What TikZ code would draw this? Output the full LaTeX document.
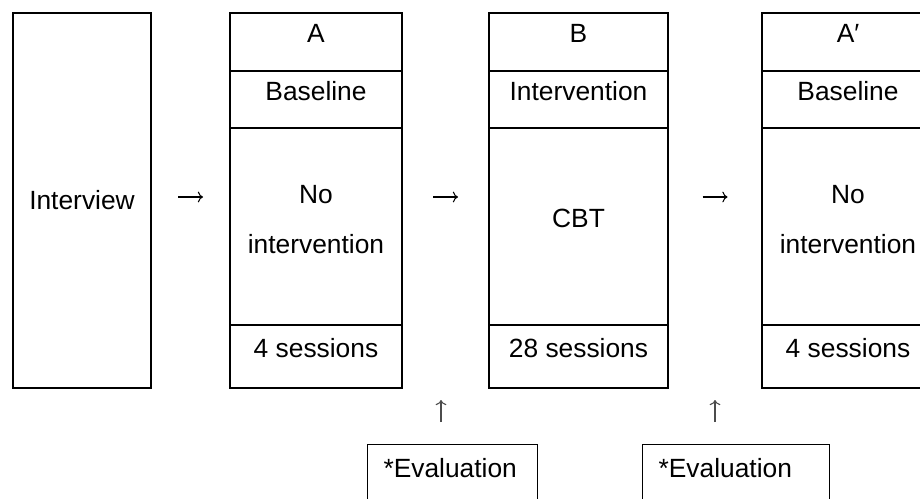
\documentclass[tikz,border=0pt]{standalone}
\usepackage{fontspec}
\setmainfont{Liberation Sans}
\usetikzlibrary{arrows.meta,calc,positioning}

\begin{document}
\begin{tikzpicture}[
  font=\fontsize{15}{18}\selectfont,
  >=To,
  box/.style    ={draw,line width=0.6pt,inner sep=0pt,outer sep=0pt,align=center},
  raised/.style ={text height=0.36cm,text depth=0.32cm},
  interv/.style ={box,minimum width=2.76cm,minimum height=7.5cm},
  title/.style  ={box,raised,minimum height=1.16cm},
  phase/.style  ={box,raised,minimum height=1.14cm},
  body/.style   ={box,minimum height=3.94cm,font=\fontsize{15}{28.4}\selectfont},
  twoline/.style={text height=1.46cm,text depth=0.38cm},
  count/.style  ={box,raised,minimum height=1.26cm},
  evalbox/.style={draw,line width=0.6pt,anchor=north west,align=left,
                  inner xsep=0.32cm,inner ysep=0.28cm,
                  text height=0.38cm,text depth=1.2cm},
  arrow/.style  ={->,line width=0.6pt},
  uparrow/.style={->,line width=0.6pt,draw=black!70},
]

%% frame of the figure (right column and evaluation boxes run off it)
\useasboundingbox (0,0) rectangle (18.4,-9.96);
\clip (0,0) rectangle (18.4,-9.96);

% --- Interview ---
\node[interv] (interview) at (1.64,-4.01) {Interview};

% --- Phase A ---
\node[title,minimum width=3.44cm,right=1.58cm of interview.north east,anchor=north west] (aTitle) {A};
\node[phase,minimum width=3.44cm,below=0pt of aTitle] (aPhase) {Baseline};
\node[body,twoline,minimum width=3.44cm,below=0pt of aPhase] (aBody) {No\\intervention};
\node[count,minimum width=3.44cm,below=0pt of aBody]  (aCount) {4 sessions};

% --- Phase B ---
\node[title,minimum width=3.58cm,right=1.74cm of aTitle.north east,anchor=north west] (bTitle) {B};
\node[phase,minimum width=3.58cm,below=0pt of bTitle] (bPhase) {Intervention};
\node[body,raised,minimum width=3.58cm,below=0pt of bPhase] (bBody) {CBT};
\node[count,minimum width=3.58cm,below=0pt of bBody]  (bCount) {28 sessions};

% --- Phase A' ---
\node[title,minimum width=3.44cm,right=1.88cm of bTitle.north east,anchor=north west] (cTitle) {A′};
\node[phase,minimum width=3.44cm,below=0pt of cTitle] (cPhase) {Baseline};
\node[body,twoline,minimum width=3.44cm,below=0pt of cPhase] (cBody) {No\\intervention};
\node[count,minimum width=3.44cm,below=0pt of cBody]  (cCount) {4 sessions};

% --- Evaluations ---
\node[evalbox,text width=2.76cm] (evalA) at (7.34,-8.88) {*Evaluation};
\node[evalbox,text width=3.1cm,right=2.08cm of evalA.north east,anchor=north west] (evalB) {*Evaluation};

%% --- Arrows between phases ---
\draw[arrow] ($(interview.east)+(0.54,0.07)$) -- ($(interview.east -| aTitle.west)+(-0.54,0.07)$);
\draw[arrow] ($(interview.east -| aTitle.east)+(0.62,0.07)$) -- ($(interview.east -| bTitle.west)+(-0.62,0.07)$);
\draw[arrow] ($(interview.east -| bTitle.east)+(0.69,0.07)$) -- ($(interview.east -| cTitle.west)+(-0.69,0.07)$);

%% --- Evaluation points ---
\coordinate (gapAB) at ($(aCount.south east)!0.5!(bCount.south west)$);
\coordinate (gapBC) at ($(bCount.south east)!0.5!(cCount.south west)$);
\draw[uparrow] ($(evalA.north -| gapAB)+(-0.09,0.44)$) -- ($(gapAB)+(-0.09,-0.24)$);
\draw[uparrow] ($(evalB.north -| gapBC)+(0,0.44)$) -- ($(gapBC)+(0,-0.24)$);

\end{tikzpicture}
\end{document}
